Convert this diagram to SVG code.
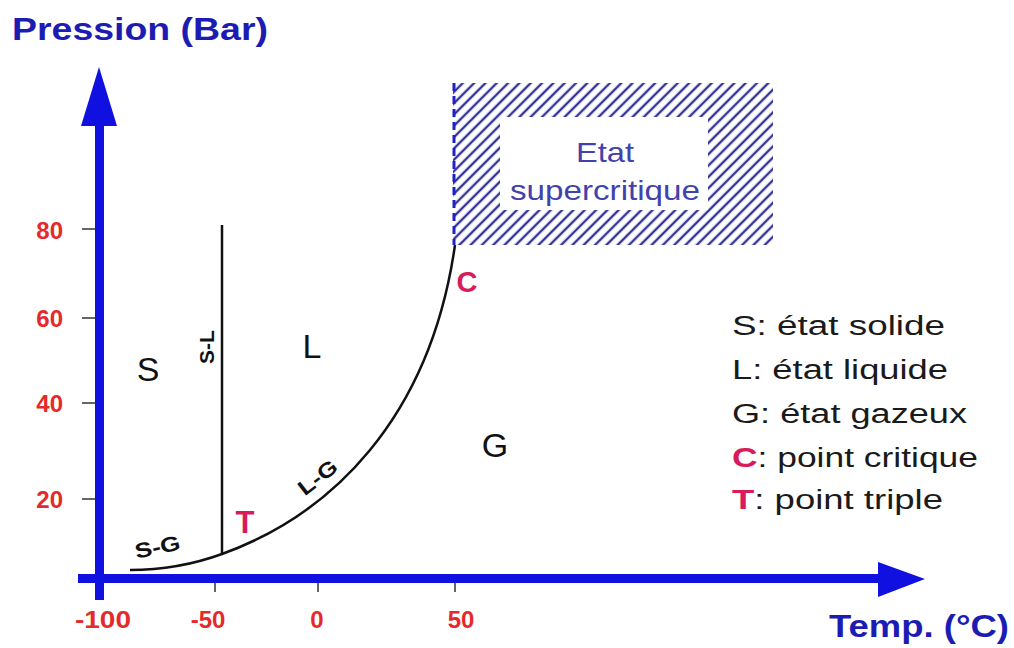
<svg xmlns="http://www.w3.org/2000/svg" width="1014" height="648" viewBox="0 0 1014 648">
<defs>
<style>
.ax{fill:#1010e0}
.axt{font-family:"Liberation Sans",Arial,sans-serif;font-weight:bold;fill:#1c1cb4;font-size:31px}
.num{font-family:"Liberation Sans",Arial,sans-serif;font-weight:bold;fill:#e42a2a;font-size:24px}
.tick{stroke:#333;stroke-width:1.5}
.ph{font-family:"Liberation Sans",Arial,sans-serif;fill:#111;font-size:34px}
.lb{font-family:"Liberation Sans",Arial,sans-serif;font-weight:bold;fill:#111;font-size:21px}
.mg{font-family:"Liberation Sans",Arial,sans-serif;font-weight:bold;fill:#d81b5a}
.lg{font-family:"Liberation Sans",Arial,sans-serif;fill:#1a1a1a;font-size:27px}
.sc{font-family:"Liberation Sans",Arial,sans-serif;fill:#4242aa;font-size:28px}
.curve{fill:none;stroke:#111;stroke-width:2.5}
</style>
<pattern id="hatch" width="8" height="8" patternUnits="userSpaceOnUse" patternTransform="rotate(45)">
<rect width="8" height="8" fill="#fff"/>
<line x1="2" y1="0" x2="2" y2="8" stroke="#34349a" stroke-width="2.4"/>
</pattern>
</defs>
<rect width="1014" height="648" fill="#fff"/>

<g id="supercritique">
<rect x="453" y="83" width="320" height="162" fill="url(#hatch)"/>
<rect x="500" y="117" width="208" height="93" fill="#fff"/>
<line x1="454" y1="83" x2="454" y2="245" stroke="#2020c8" stroke-width="3" stroke-dasharray="8,5"/>
<text class="sc" x="605" y="162" text-anchor="middle" textLength="58" lengthAdjust="spacingAndGlyphs">Etat</text>
<text class="sc" x="605" y="200" text-anchor="middle" textLength="190" lengthAdjust="spacingAndGlyphs">supercritique</text>
</g>

<g id="connectors">
<line x1="222" y1="225" x2="222" y2="555" stroke="#111" stroke-width="2.5"/>
<path class="curve" d="M130,570 C170,570 200,562 222,554 C330,515 430,420 455,245"/>
</g>

<g id="axes">
<rect class="ax" x="95" y="118" width="9" height="482"/>
<polygon class="ax" points="99,67 117,126 81,126"/>
<rect class="ax" x="78" y="574" width="805" height="9"/>
<polygon class="ax" points="925,579 878,562 878,597"/>
<text class="axt" x="12" y="40" textLength="256" lengthAdjust="spacingAndGlyphs">Pression (Bar)</text>
<text class="axt" x="829" y="637" textLength="180" lengthAdjust="spacingAndGlyphs">Temp. (°C)</text>
</g>

<g id="yticks">
<line class="tick" x1="82" y1="229" x2="95" y2="229"/>
<line class="tick" x1="82" y1="318" x2="95" y2="318"/>
<line class="tick" x1="82" y1="403" x2="95" y2="403"/>
<line class="tick" x1="82" y1="499" x2="95" y2="499"/>
<text class="num" x="63" y="239" text-anchor="end">80</text>
<text class="num" x="63" y="327" text-anchor="end">60</text>
<text class="num" x="63" y="412" text-anchor="end">40</text>
<text class="num" x="63" y="508" text-anchor="end">20</text>
</g>

<g id="xticks">
<line class="tick" x1="215" y1="583" x2="215" y2="592"/>
<line class="tick" x1="318" y1="583" x2="318" y2="592"/>
<line class="tick" x1="455" y1="583" x2="455" y2="592"/>
<text class="num" x="103" y="628" text-anchor="middle" textLength="56" lengthAdjust="spacingAndGlyphs">-100</text>
<text class="num" x="208" y="628" text-anchor="middle">-50</text>
<text class="num" x="317" y="628" text-anchor="middle">0</text>
<text class="num" x="461" y="628" text-anchor="middle">50</text>
</g>

<g id="phases">
<text class="ph" x="148" y="381" text-anchor="middle">S</text>
<text class="ph" x="312" y="358" text-anchor="middle">L</text>
<text class="ph" x="495" y="457" text-anchor="middle">G</text>
</g>

<g id="labels">
<text class="lb" transform="translate(214,347) rotate(-90)" text-anchor="middle">S-L</text>
<text class="lb" transform="translate(159,554) rotate(-12)" text-anchor="middle" textLength="46" lengthAdjust="spacingAndGlyphs">S-G</text>
<text class="lb" transform="translate(322,483) rotate(-38)" text-anchor="middle" textLength="44" lengthAdjust="spacingAndGlyphs">L-G</text>
<text class="mg" x="245" y="533" font-size="31" text-anchor="middle">T</text>
<text class="mg" x="467" y="292" font-size="29" text-anchor="middle">C</text>
</g>

<g id="legend">
<text class="lg" x="732" y="335" textLength="213" lengthAdjust="spacingAndGlyphs">S: état solide</text>
<text class="lg" x="732" y="379" textLength="216" lengthAdjust="spacingAndGlyphs">L: état liquide</text>
<text class="lg" x="732" y="423" textLength="235" lengthAdjust="spacingAndGlyphs">G: état gazeux</text>
<text class="lg" x="732" y="467" textLength="246" lengthAdjust="spacingAndGlyphs"><tspan class="mg">C</tspan>: point critique</text>
<text class="lg" x="732" y="509" textLength="211" lengthAdjust="spacingAndGlyphs"><tspan class="mg">T</tspan>: point triple</text>
</g>
</svg>
